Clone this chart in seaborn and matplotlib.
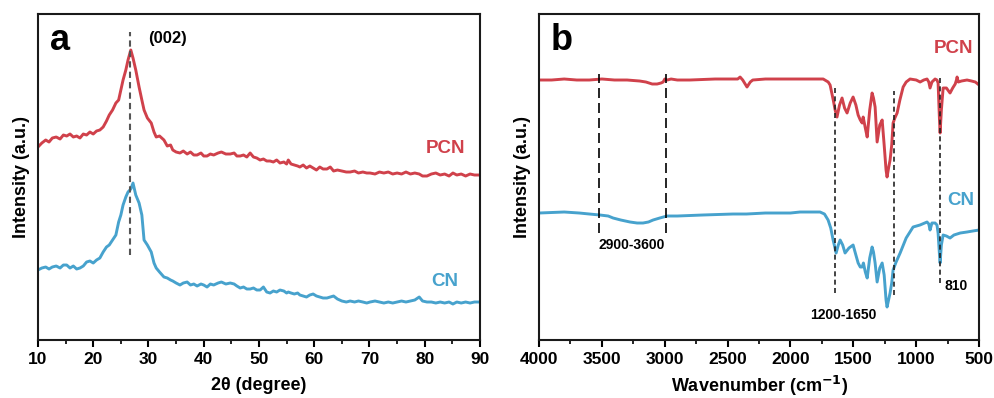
import numpy as np
import pandas as pd
import matplotlib
matplotlib.use('Agg')
import matplotlib.pyplot as plt
import seaborn as sns
from matplotlib.ticker import MultipleLocator

RED = '#d0414b'
BLUE = '#47a2cd'

# --- XRD (panel a) ---
XRD_2THETA = [
    10.0, 10.7, 11.4, 12.0, 12.6, 13.3, 14.0, 14.6, 15.2, 15.8,
    16.4, 17.0, 17.6, 18.2, 18.8, 19.4, 20.0, 20.6, 21.2, 21.8,
    22.4, 22.9, 23.5, 24.1, 24.6, 25.0, 25.4, 25.9, 26.3, 26.8,
    27.2, 27.7, 28.3, 28.8, 29.2, 29.8, 30.5, 31.0, 31.4, 32.0,
    32.8, 33.4, 34.0, 34.4, 35.0, 35.7, 36.3, 37.0, 37.6, 38.2,
    38.8, 39.5, 40.0, 40.6, 41.2, 41.8, 42.6, 43.2, 44.0, 44.8,
    45.5, 46.0, 46.6, 47.2, 47.8, 48.4, 49.0, 49.6, 50.2, 50.8,
    51.4, 52.0, 52.6, 53.2, 53.8, 54.5, 55.0, 55.3, 55.8, 56.4,
    57.0, 57.4, 58.0, 58.6, 59.2, 59.8, 60.4, 61.0, 61.6, 62.3,
    62.9, 63.5, 64.2, 65.0, 65.8, 66.5, 67.3, 68.0, 68.8, 69.5,
    70.1, 71.0, 71.8, 72.6, 73.4, 74.2, 75.0, 75.8, 76.6, 77.4,
    78.2, 79.0, 79.6, 80.4, 81.2, 82.0, 82.8, 83.6, 84.4, 85.1,
    85.8, 86.6, 87.4, 88.2, 89.0, 90.0,
]
XRD_PCN = [
    193, 197, 200, 198, 202, 203, 201, 205, 204, 206,
    203, 204, 202, 206, 205, 208, 206, 209, 210, 213,
    219, 225, 230, 237, 240, 250, 260, 270, 280, 290,
    282, 270, 253, 240, 230, 222, 217, 208, 203, 204,
    200, 194, 195, 190, 188, 187, 189, 186, 188, 185,
    185, 187, 184, 184, 186, 185, 187, 188, 186, 186,
    187, 184, 184, 185, 183, 187, 183, 182, 180, 181,
    179, 179, 178, 180, 177, 178, 176, 180, 176, 175,
    174, 173, 175, 172, 174, 172, 170, 173, 171, 171,
    173, 169, 170, 169, 168, 168, 169, 167, 168, 167,
    167, 166, 168, 167, 168, 166, 167, 166, 168, 166,
    167, 166, 164, 164, 166, 167, 165, 166, 164, 167,
    165, 166, 164, 166, 165, 165,
]
XRD_CN = [
    70, 72, 73, 71, 73, 74, 72, 75, 75, 72,
    74, 71, 72, 74, 78, 79, 77, 80, 82, 88,
    93, 95, 100, 105, 118, 125, 135, 143, 148, 151,
    157, 145, 137, 125, 100, 95, 88, 77, 72, 68,
    63, 62, 60, 59, 57, 55, 57, 58, 55, 56,
    54, 56, 55, 53, 56, 55, 57, 58, 56, 57,
    56, 54, 52, 53, 51, 51, 52, 50, 50, 53,
    48, 47, 49, 48, 50, 49, 47, 48, 47, 46,
    47, 45, 44, 43, 45, 46, 44, 43, 42, 42,
    43, 44, 41, 39, 38, 39, 38, 39, 38, 37,
    38, 39, 38, 37, 38, 37, 38, 39, 38, 39,
    40, 43, 39, 38, 38, 37, 38, 37, 38, 36,
    38, 37, 38, 37, 38, 38,
]

# --- FTIR (panel b) ---
FTIR_WN_PCN = [
    4000, 3900, 3800, 3700, 3600, 3500, 3400, 3300, 3200, 3150,
    3100, 3061, 3030, 3013, 3000, 2980, 2950, 2900, 2800, 2600,
    2420, 2401, 2380, 2346, 2320, 2300, 2200, 2000, 1800, 1740,
    1700, 1685, 1660, 1645, 1630, 1610, 1590, 1570, 1550, 1525,
    1502, 1480, 1462, 1445, 1430, 1422, 1405, 1390, 1370, 1351,
    1340, 1327, 1311, 1290, 1271, 1255, 1240, 1232, 1220, 1208,
    1195, 1184, 1170, 1152, 1130, 1104, 1080, 1049, 1000, 969,
    940, 914, 900, 890, 875, 850, 835, 826, 815, 810,
    800, 786, 760, 731, 710, 690, 680, 675, 665, 640,
    596, 560, 530, 500,
]
FTIR_PCN = [
    260, 260, 261, 260, 260, 261, 260, 260, 259, 258,
    256, 256, 257, 258, 261, 260, 261, 260, 260, 261,
    261, 263, 260, 253, 258, 260, 261, 261, 261, 261,
    258, 255, 240, 230, 223, 235, 242, 232, 227, 237,
    243, 235, 225, 220, 217, 223, 212, 203, 230, 247,
    242, 233, 198, 215, 220, 195, 170, 163, 172, 180,
    195, 217, 222, 227, 240, 253, 258, 261, 260, 258,
    260, 261, 258, 252, 258, 261, 260, 257, 220, 207,
    230, 252, 252, 247, 252, 256, 260, 263, 258, 259,
    260, 259, 258, 255,
]
FTIR_WN_CN = [
    4000, 3800, 3680, 3600, 3515, 3450, 3411, 3350, 3276, 3220,
    3173, 3130, 3093, 3040, 2982, 2900, 2700, 2457, 2350, 2200,
    2000, 1924, 1765, 1730, 1701, 1680, 1661, 1637, 1620, 1605,
    1585, 1566, 1535, 1502, 1480, 1462, 1445, 1430, 1420, 1405,
    1390, 1370, 1351, 1340, 1327, 1311, 1290, 1271, 1255, 1240,
    1232, 1220, 1208, 1195, 1184, 1160, 1128, 1080, 1025, 970,
    914, 900, 890, 875, 850, 835, 826, 815, 810, 800,
    786, 760, 731, 700, 650, 596, 550, 500,
]
FTIR_CN = [
    127, 128, 127, 126, 125, 124, 122, 120, 118, 117,
    117, 118, 120, 122, 124, 124, 125, 126, 126, 127,
    127, 128, 128, 126, 120, 112, 100, 87, 95, 100,
    95, 87, 92, 95, 85, 77, 73, 73, 77, 68,
    62, 82, 93, 88, 77, 58, 72, 77, 65, 40,
    33, 40, 47, 57, 70, 78, 87, 102, 113, 115,
    118, 116, 110, 117, 117, 115, 107, 85, 77, 95,
    105, 104, 102, 105, 107, 108, 109, 110,
]

# marker lines: (position, y from, y to)
XRD_MARK = (26.7, 85, 308)
FTIR_LONG = [(3520, 107, 266), (2990, 107, 266)]
FTIR_SHORT = [(1645, 47, 252), (1176, 45, 249), (810, 57, 262)]

sns.set_style('ticks')
plt.rcParams['font.family'] = ['Liberation Sans', 'DejaVu Sans']
plt.rcParams['font.weight'] = 'bold'
plt.rcParams['axes.labelweight'] = 'bold'
plt.rcParams['axes.linewidth'] = 1.5
plt.rcParams['xtick.major.width'] = 1.5
plt.rcParams['xtick.minor.width'] = 1.2
plt.rcParams['xtick.major.size'] = 5
plt.rcParams['xtick.minor.size'] = 3
plt.rcParams['xtick.color'] = 'black'
plt.rcParams['xtick.labelcolor'] = 'black'
plt.rcParams['text.color'] = 'black'
plt.rcParams['axes.labelcolor'] = 'black'
plt.rcParams['axes.edgecolor'] = '#1a1a1a'

fig = plt.figure(figsize=(9.94, 3.98), dpi=100)
ax1 = fig.add_axes([0.0382, 0.1457, 0.4447, 0.8191])
ax2 = fig.add_axes([0.5423, 0.1457, 0.4427, 0.8191])

xrd = pd.DataFrame({'x': XRD_2THETA, 'PCN': XRD_PCN, 'CN': XRD_CN})
sns.lineplot(data=xrd, x='x', y='PCN', ax=ax1, color=RED, lw=2.1)
sns.lineplot(data=xrd, x='x', y='CN', ax=ax1, color=BLUE, lw=2.1)
ax1.plot([XRD_MARK[0]] * 2, XRD_MARK[1:], ls=(0, (3, 2)), color='#555555', lw=1.5)

ax1.set_xlim(10, 90)
ax1.set_ylim(0, 326)
ax1.xaxis.set_major_locator(MultipleLocator(10))
ax1.xaxis.set_minor_locator(MultipleLocator(5))
ax1.set_yticks([])
ax1.set_xlabel('2θ (degree)', fontsize=13, labelpad=7)
ax1.set_ylabel('Intensity (a.u.)', fontsize=13, labelpad=6)
ax1.text(0.05, 0.92, 'a', transform=ax1.transAxes, fontsize=26, fontweight='bold',
         ha='center', va='center')
ax1.text(33.5, 302, '(002)', fontsize=12, fontweight='bold', ha='center', va='center')
ax1.text(83.7, 192, 'PCN', fontsize=13.5, fontweight='bold', color=RED, ha='center', va='center')
ax1.text(83.7, 59, 'CN', fontsize=13.5, fontweight='bold', color=BLUE, ha='center', va='center')

pcn = pd.DataFrame({'x': FTIR_WN_PCN, 'y': FTIR_PCN})
cn = pd.DataFrame({'x': FTIR_WN_CN, 'y': FTIR_CN})
sns.lineplot(data=pcn, x='x', y='y', ax=ax2, color=RED, lw=2.1)
sns.lineplot(data=cn, x='x', y='y', ax=ax2, color=BLUE, lw=2.1)
for xv, y0, y1 in FTIR_LONG:
    ax2.plot([xv, xv], [y0, y1], ls=(0, (6, 3)), color='black', lw=1.2)
for xv, y0, y1 in FTIR_SHORT:
    ax2.plot([xv, xv], [y0, y1], ls=(0, (3, 2)), color='#222222', lw=1.2)

ax2.set_xlim(4000, 500)
ax2.set_ylim(0, 326)
ax2.xaxis.set_major_locator(MultipleLocator(500))
ax2.xaxis.set_minor_locator(MultipleLocator(250))
ax2.set_yticks([])
ax2.set_xlabel('Wavenumber (cm$^{\\mathbf{-1}}$)', fontsize=13, labelpad=5)
ax2.set_ylabel('Intensity (a.u.)', fontsize=13, labelpad=6)
ax2.text(0.052, 0.92, 'b', transform=ax2.transAxes, fontsize=26, fontweight='bold',
         ha='center', va='center')
ax2.text(707, 292, 'PCN', fontsize=13.5, fontweight='bold', color=RED, ha='center', va='center')
ax2.text(643, 140, 'CN', fontsize=13.5, fontweight='bold', color=BLUE, ha='center', va='center')
ax2.text(3260, 95, '2900-3600', fontsize=10, fontweight='bold', ha='center', va='center')
ax2.text(1582, 25, '1200-1650', fontsize=10, fontweight='bold', ha='center', va='center')
ax2.text(683, 54, '810', fontsize=10, fontweight='bold', ha='center', va='center')

for ax in (ax1, ax2):
    ax.tick_params(axis='x', which='both', direction='out', labelsize=12.5)
    for lab in ax.get_xticklabels():
        lab.set_fontweight('bold')
    for s in ax.spines.values():
        s.set_visible(True)

fig.savefig('out.png', dpi=100)
